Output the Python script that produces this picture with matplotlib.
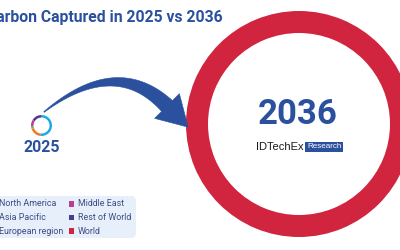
import matplotlib
matplotlib.use('Agg')
import numpy as np
import matplotlib.pyplot as plt
from matplotlib.patches import FancyBboxPatch, Rectangle, Polygon

# regional share of carbon captured in 2025 (%)
regions = ['North America', 'Asia Pacific', 'European region',
           'Middle East', 'Rest of World', 'World']
colors = ['#1DA9E3', '#F07A22', '#6DB544', '#BF3B98', '#4A3B8B', '#D0243F']
share_2025 = [52, 18, 4, 10, 16]
share_2036 = [100]   # only the World total is shown for 2036
years = ['2025', '2036']
title = 'Carbon Captured in 2025 vs 2036'

blue = '#2B519E'
H = 250

fig = plt.figure(figsize=(4, 2.5), dpi=100)
ax = fig.add_axes([0, 0, 1, 1])

# small ring, 2025
ax.pie(share_2025, colors=colors[:5], radius=10.5, center=(41.5, H - 125.5),
       startangle=90, counterclock=False,
       wedgeprops=dict(width=2.5, linewidth=0))
# big ring, 2036
ax.pie(share_2036, colors=colors[5:], radius=113, center=(299, H - 124),
       startangle=90, counterclock=False,
       wedgeprops=dict(width=22, linewidth=0))

ax.set_xlim(0, 400)
ax.set_ylim(0, H)
ax.set_aspect('equal')
ax.axis('off')

# curved arrow from 2025 to 2036: tapered bezier shaft + triangular head
p0, c, p2 = np.array([44, 112.]), np.array([116, 55.]), np.array([167, 106.])
t = np.linspace(0, 1, 60)[:, None]
pts = (1 - t) ** 2 * p0 + 2 * (1 - t) * t * c + t ** 2 * p2
der = 2 * (1 - t) * (c - p0) + 2 * t * (p2 - c)
nrm = np.column_stack([-der[:, 1], der[:, 0]]) / np.linalg.norm(der, axis=1)[:, None]
w = (0.8 + 14.5 * t) / 2
upper = pts + nrm * w
lower = pts - nrm * w
d = (p2 - c) / np.linalg.norm(p2 - c)
n = np.array([-d[1], d[0]])
head = [p2 + n * 17.5, p2 + d * 30, p2 - n * 17.5]
shape = np.vstack([upper, head, lower[::-1]])
shape[:, 1] = H - shape[:, 1]
ax.add_patch(Polygon(shape, closed=True, fc=blue, ec=blue, lw=0.4, zorder=3))

ax.text(223, H - 17.5, title, ha='right', va='center', fontsize=11.35,
        fontweight='bold', family='Roboto', color=blue)
ax.text(41.5, H - 147, years[0], ha='center', va='center', fontsize=11.5,
        fontweight='bold', family='Roboto', color=blue)
ax.text(298, H - 115, years[1], ha='center', va='center', fontsize=25,
        fontweight='bold', family='Roboto', color=blue)

# IDTechEx logo
ax.text(256, H - 147, 'IDTechEx', ha='left', va='center', fontsize=8,
        family='Liberation Sans', color='#1a1a1a')
ax.add_patch(Rectangle((305, H - 152), 38, 10.5, color=blue, lw=0))
ax.text(324, H - 146.8, 'Research', ha='center', va='center', fontsize=5.8,
        family='Liberation Sans', color='white')

# legend
ax.add_patch(FancyBboxPatch((-20, H - 238), 156, 42,
                            boxstyle='round,pad=0,rounding_size=5',
                            fc='#E7F0FA', ec='none'))
rows_y = [204, 217.5, 231]
for i, (name, col_c) in enumerate(zip(regions, colors)):
    col, row = divmod(i, 3)
    x0 = -10 + col * 79
    y = H - rows_y[row]
    ax.add_patch(Rectangle((x0, y - 2.7), 5.4, 5.4, color=col_c, lw=0))
    ax.text(x0 + 9, y, name, ha='left', va='center', fontsize=6.4,
            family='Roboto', color='#3D4C86')

fig.savefig('out.png', dpi=100)
